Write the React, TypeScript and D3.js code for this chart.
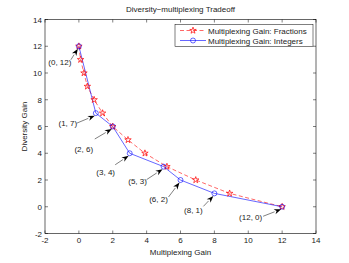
import React, { useEffect, useRef } from 'react';
import * as d3 from 'd3';

// multiplexing gain (x) / diversity gain (y)
const fracX = [0, 0.1, 0.3, 0.5, 0.9, 1.4, 2, 2.9, 3.9, 5.2, 6.9, 8.9, 12];
const fracY = [12, 11, 10, 9, 8, 7, 6, 5, 4, 3, 2, 1, 0];
const intX = [0, 1, 2, 3, 5, 6, 8, 12];
const intY = [12, 7, 6, 4, 3, 2, 1, 0];
const pointLabels = ['(0, 12)', '(1, 7)', '(2, 6)', '(3, 4)', '(5, 3)', '(6, 2)', '(8, 1)', '(12, 0)'];
const ticks = [-2, 0, 2, 4, 6, 8, 10, 12, 14];
const seriesNames = ['Multiplexing Gain: Fractions', 'Multiplexing Gain: Integers'];

// annotation layout in px, relative to each point: text centre, arrow tail
const labelOffsets = [
  [-19, 16, -8, 13.5],
  [-28, 10, -19, 10],
  [-29, 22.5, -18, 12.5],
  [-24, 18.5, -14.5, 11.5],
  [-26, 14.5, -17, 13],
  [-22, 19, -12, 17],
  [-21, 16.5, -11, 13],
  [-31.5, 10.5, -19, 9.5],
];

const W = 349, H = 263;
const FONT = '"Liberation Sans", Arial, Helvetica, sans-serif';

const App = () => {
  const ref = useRef<SVGSVGElement | null>(null);

  useEffect(() => {
    const svg = d3.select(ref.current);
    svg.selectAll('*').remove();

    const x = d3.scaleLinear().domain([-2, 14]).range([45, 316]);
    const y = d3.scaleLinear().domain([-2, 14]).range([233.5, 19.5]);
    const [x0, x1] = x.range();
    const [y0, y1] = y.range();

    svg.append('rect').attr('width', W).attr('height', H).attr('fill', '#fff');

    // ticks (inside, on all four sides)
    const tk = svg.append('g').attr('stroke', '#000').attr('stroke-width', 0.5);
    ticks.forEach(t => {
      tk.append('line').attr('x1', x(t)).attr('x2', x(t)).attr('y1', y0).attr('y2', y0 - 3);
      tk.append('line').attr('x1', x(t)).attr('x2', x(t)).attr('y1', y1).attr('y2', y1 + 3);
      tk.append('line').attr('y1', y(t)).attr('y2', y(t)).attr('x1', x0).attr('x2', x0 + 3);
      tk.append('line').attr('y1', y(t)).attr('y2', y(t)).attr('x1', x1).attr('x2', x1 - 3);
    });

    const txt = svg.append('g').attr('font-family', FONT).attr('font-size', 8).attr('fill', '#222');
    ticks.forEach(t => {
      txt.append('text').attr('x', x(t)).attr('y', y0 + 9).attr('text-anchor', 'middle').text(t);
      txt.append('text').attr('x', x0 - 3).attr('y', y(t) + 3).attr('text-anchor', 'end').text(t);
    });
    txt.append('text').attr('x', (x0 + x1) / 2).attr('y', 12).attr('text-anchor', 'middle').text('Diversity\u2212multiplexing Tradeoff');
    txt.append('text').attr('x', (x0 + x1) / 2).attr('y', 255).attr('text-anchor', 'middle').text('Multiplexing Gain');
    txt.append('text').attr('transform', `translate(27,${(y0 + y1) / 2}) rotate(-90)`).attr('text-anchor', 'middle').text('Diversity Gain');

    const line = d3.line<[number, number]>().x(d => x(d[0])).y(d => y(d[1]));
    const frac = fracX.map((v, i) => [v, fracY[i]] as [number, number]);
    const ints = intX.map((v, i) => [v, intY[i]] as [number, number]);

    svg.append('path').attr('d', line(frac)).attr('fill', 'none').attr('stroke', '#ff0000')
      .attr('stroke-width', 0.6).attr('stroke-dasharray', '4,2.5');
    svg.append('path').attr('d', line(ints)).attr('fill', 'none').attr('stroke', '#0000ff').attr('stroke-width', 0.6);

    const star = d3.symbol().type(d3.symbolStar).size(13);
    svg.append('g').selectAll('path').data(frac).enter().append('path')
      .attr('d', star()).attr('transform', d => `translate(${x(d[0])},${y(d[1])})`)
      .attr('fill', 'none').attr('stroke', '#ff0000').attr('stroke-width', 0.7);
    svg.append('g').selectAll('circle').data(ints).enter().append('circle')
      .attr('cx', d => x(d[0])).attr('cy', d => y(d[1])).attr('r', 2.5)
      .attr('fill', 'none').attr('stroke', '#0000ff').attr('stroke-width', 0.6);

    // annotations
    const ann = svg.append('g');
    ints.forEach((d, i) => {
      const px = x(d[0]), py = y(d[1]);
      const [tdx, tdy, adx, ady] = labelOffsets[i];
      const sx = px + adx, sy = py + ady;
      const ex = px - 1, ey = py + 2.5;
      const ang = Math.atan2(ey - sy, ex - sx);
      const L = 7, hw = 2.6;
      const bx = ex - L * Math.cos(ang), by = ey - L * Math.sin(ang);
      const nx = -Math.sin(ang), ny = Math.cos(ang);
      ann.append('line').attr('x1', sx).attr('y1', sy).attr('x2', bx).attr('y2', by)
        .attr('stroke', '#000').attr('stroke-width', 0.5);
      const mx = ex - 0.7 * L * Math.cos(ang), my = ey - 0.7 * L * Math.sin(ang);
      ann.append('path')
        .attr('d', `M${ex},${ey}L${bx + nx * hw},${by + ny * hw}L${mx},${my}L${bx - nx * hw},${by - ny * hw}Z`)
        .attr('fill', '#000');
      txt.append('text').attr('x', px + tdx).attr('y', py + tdy + 3).attr('text-anchor', 'middle').text(pointLabels[i]);
    });

    // axes box
    svg.append('rect').attr('x', x0).attr('y', y1).attr('width', x1 - x0).attr('height', y0 - y1)
      .attr('fill', 'none').attr('stroke', '#000').attr('stroke-width', 0.6);

    // legend
    const lg = svg.append('g').attr('transform', 'translate(175,24.5)');
    lg.append('rect').attr('width', 138).attr('height', 22).attr('fill', '#fff')
      .attr('stroke', '#000').attr('stroke-width', 0.5);
    seriesNames.forEach((name, i) => {
      const ly = 6 + i * 10;
      const isFrac = i === 0;
      const col = isFrac ? '#ff0000' : '#0000ff';
      lg.append('line').attr('x1', 5).attr('x2', 31).attr('y1', ly).attr('y2', ly)
        .attr('stroke', col).attr('stroke-width', 0.6).attr('stroke-dasharray', isFrac ? '4,2.5' : null);
      if (isFrac) {
        lg.append('path').attr('d', star()).attr('transform', `translate(18,${ly})`)
          .attr('fill', 'none').attr('stroke', col).attr('stroke-width', 0.7);
      } else {
        lg.append('circle').attr('cx', 18).attr('cy', ly).attr('r', 2.5)
          .attr('fill', 'none').attr('stroke', col).attr('stroke-width', 0.6);
      }
      lg.append('text').attr('x', 33).attr('y', ly + 3).attr('font-family', FONT).attr('font-size', 8)
        .attr('fill', '#222').text(name);
    });
  }, []);

  return (
    <svg ref={ref} width={W} height={H} style={{ position: 'absolute', left: 0, top: 0 }} />
  );
};

export default App;
